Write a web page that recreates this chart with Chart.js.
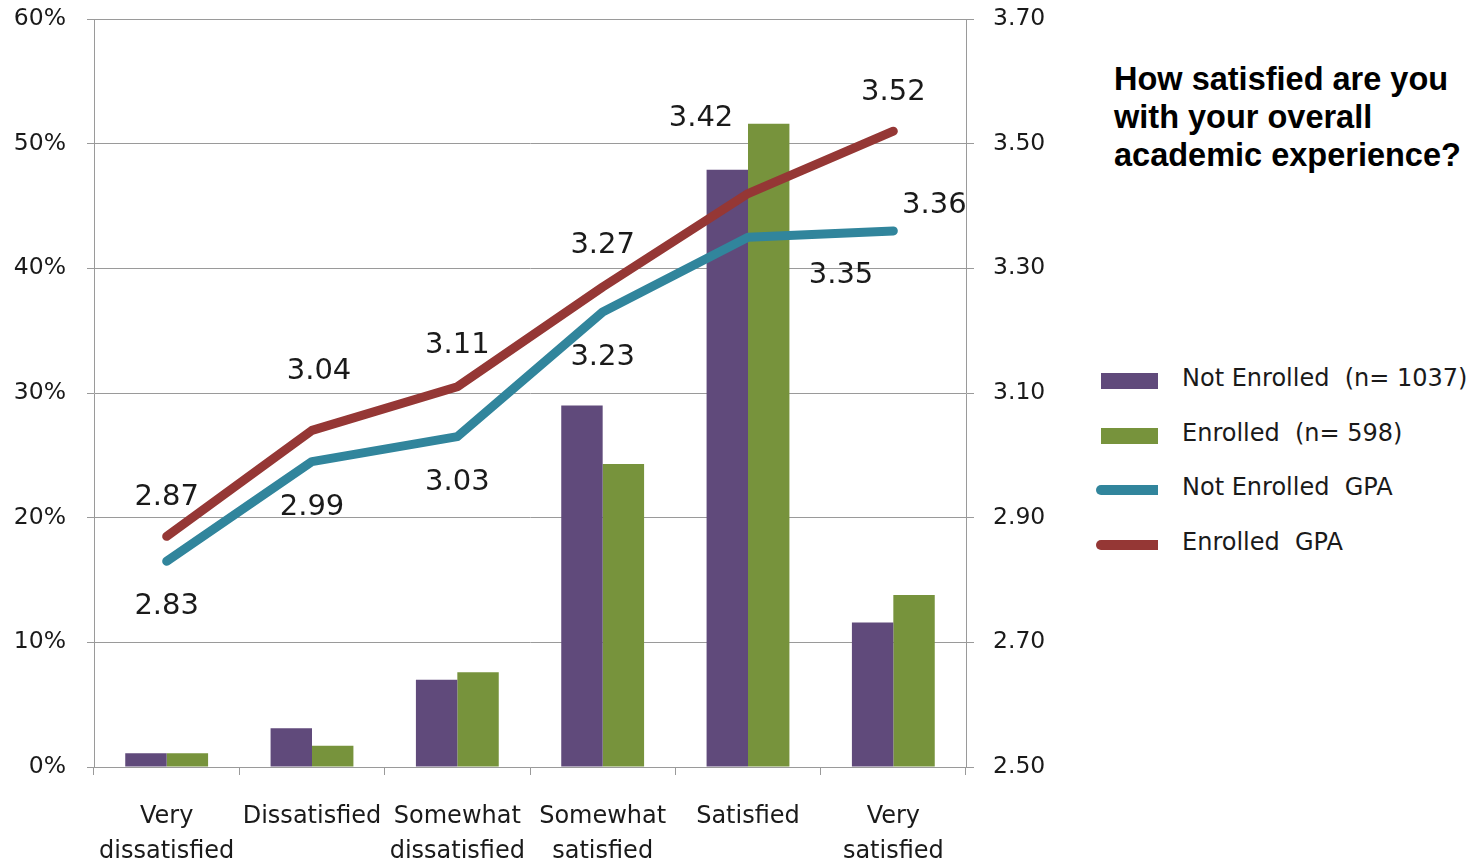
<!DOCTYPE html>
<html>
<head>
<meta charset="utf-8">
<script src="https://cdn.jsdelivr.net/npm/chart.js@4.4.0/dist/chart.umd.min.js"></script>
<style>
  body { margin: 0; background: #fff; }
  #wrap { position: relative; width: 1474px; height: 861px; }
  #chartBox { position: absolute; left: 0; top: 0; width: 1080px; height: 861px; }
  #title {
    position: absolute; left: 1114px; top: 60px;
    font: bold 32.5px "Liberation Sans", Arial, sans-serif;
    line-height: 38px; color: #000;
  }
  #legend { position: absolute; left: 1094px; top: 360px; font: 24px "DejaVu Sans", sans-serif; color: #1a1a1a; }
  .item { position: relative; height: 54.5px; }
  .item span.txt { position: absolute; left: 88px; top: 4px; white-space: pre; }
  .sw { position: absolute; left: 7px; top: 13px; width: 57px; height: 16px; }
</style>
</head>
<body>
<div id="wrap">
  <div id="chartBox"><canvas id="chart"></canvas></div>
  <div id="title">How satisfied are you<br>with your overall<br>academic experience?</div>
  <div id="legend"></div>
</div>
<script>
// categories + series
const categories = [
  ["Very", "dissatisfied"],
  "Dissatisfied",
  ["Somewhat", "dissatisfied"],
  ["Somewhat", "satisfied"],
  "Satisfied",
  ["Very", "satisfied"]
];
const notEnrolledPct = [1.1, 3.1, 7.0, 29.0, 47.9, 11.6];
const enrolledPct = [1.1, 1.7, 7.6, 24.3, 51.6, 13.8];
const notEnrolledGpa = [2.83, 2.99, 3.03, 3.23, 3.35, 3.36];
const enrolledGpa = [2.87, 3.04, 3.11, 3.27, 3.42, 3.52];

const legendLabels = ["Not Enrolled  (n= 1037)", "Enrolled  (n= 598)", "Not Enrolled  GPA", "Enrolled  GPA"];

const purple = "#604A7B";
const green = "#77933C";
const blue = "#31859C";
const red = "#953735";
const gridColor = "#9a9a9a";
const tickFont = { family: "DejaVu Sans", size: 23.5 };

// label nudges (dx, dy) from each point, like the hand-moved labels in the original
const redOffsets = [[0, -39], [7, -59], [0, -41], [0, -42], [-47, -75], [0, -39]];
const blueOffsets = [[0, 45], [0, 46], [0, 46], [0, 46], [93, 38], [41, -25]];

const lineLabels = {
  id: "lineLabels",
  afterDatasetsDraw(chart) {
    const ctx = chart.ctx;
    ctx.save();
    ctx.font = "29px 'DejaVu Sans'";
    ctx.fillStyle = "#1a1a1a";
    ctx.textAlign = "center";
    ctx.textBaseline = "middle";
    chart.data.datasets.forEach((ds, di) => {
      if (ds.type !== "line") return;
      const offs = ds.label === "Enrolled GPA" ? redOffsets : blueOffsets;
      chart.getDatasetMeta(di).data.forEach((pt, i) => {
        ctx.fillText(ds.data[i].toFixed(2), pt.x + offs[i][0], pt.y + offs[i][1]);
      });
    });
    ctx.restore();
  }
};

new Chart(document.getElementById("chart"), {
  data: {
    labels: categories,
    datasets: [
      {
        type: "line", label: "Enrolled GPA", data: enrolledGpa, yAxisID: "y2",
        borderColor: red, borderWidth: 9, pointRadius: 0,
        borderCapStyle: "round", borderJoinStyle: "round", order: 0
      },
      {
        type: "line", label: "Not Enrolled GPA", data: notEnrolledGpa, yAxisID: "y2",
        borderColor: blue, borderWidth: 9, pointRadius: 0,
        borderCapStyle: "round", borderJoinStyle: "round", order: 1
      },
      {
        type: "bar", label: "Not Enrolled", data: notEnrolledPct, yAxisID: "y",
        backgroundColor: purple, categoryPercentage: 0.57, barPercentage: 1.0, order: 2
      },
      {
        type: "bar", label: "Enrolled", data: enrolledPct, yAxisID: "y",
        backgroundColor: green, categoryPercentage: 0.57, barPercentage: 1.0, order: 3
      }
    ]
  },
  options: {
    responsive: true,
    maintainAspectRatio: false,
    animation: false,
    layout: { padding: { top: 19, left: 0, right: 0, bottom: 0 } },
    plugins: { legend: { display: false }, tooltip: { enabled: false } },
    scales: {
      x: {
        offset: true,
        grid: { offset: true, drawOnChartArea: false, color: gridColor, tickLength: 8 },
        border: { color: gridColor },
        ticks: {
          font: { family: "DejaVu Sans", size: 24, lineHeight: 1.46 },
          color: "#1a1a1a", padding: 24, maxRotation: 0, autoSkip: false
        },
        afterFit: (s) => { s.height = 94; s.paddingLeft = 0; s.paddingRight = 0; }
      },
      y: {
        position: "left", min: 0, max: 60,
        ticks: { stepSize: 10, font: tickFont, color: "#1a1a1a", padding: 21, callback: (v) => v + "%" },
        grid: { color: gridColor, tickLength: 7 },
        border: { color: gridColor },
        afterFit: (s) => { s.width = 94; s.paddingTop = 0; s.paddingBottom = 0; }
      },
      y2: {
        position: "right", min: 2.5, max: 3.7,
        ticks: { stepSize: 0.2, font: tickFont, color: "#1a1a1a", padding: 19, callback: (v) => v.toFixed(2) },
        grid: { drawOnChartArea: false, color: gridColor, tickLength: 8 },
        border: { color: gridColor },
        afterFit: (s) => { s.width = 114; s.paddingTop = 0; s.paddingBottom = 0; }
      }
    }
  },
  plugins: [lineLabels]
});

// legend on the right
const legendBox = document.getElementById("legend");
const swatches = [purple, green, blue, red];
legendLabels.forEach((txt, i) => {
  const row = document.createElement("div");
  row.className = "item";
  const mark = document.createElement("div");
  mark.className = "sw";
  if (i >= 2) {
    // line series get a rounded stroke instead of a box
    mark.style.left = "2px";
    mark.style.width = "62px";
    mark.style.height = "10px";
    mark.style.top = "16px";
    mark.style.borderRadius = "5px 0 0 5px";
  }
  mark.style.background = swatches[i];
  const span = document.createElement("span");
  span.className = "txt";
  span.textContent = txt;
  row.appendChild(mark);
  row.appendChild(span);
  legendBox.appendChild(row);
});
</script>
</body>
</html>
